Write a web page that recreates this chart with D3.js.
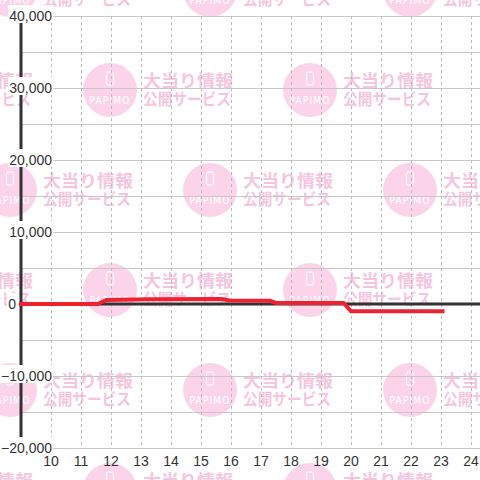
<!DOCTYPE html>
<html><head><meta charset="utf-8">
<script src="https://cdn.jsdelivr.net/npm/d3@7"></script>
<style>body{margin:0;background:#fff}svg{display:block}</style>
</head><body><svg id="c" width="480" height="480"></svg>
<script>
// data
const hours = [9, 11.55, 11.85, 13.3, 15.7, 15.95, 17.3, 17.5, 19.75, 20.0, 23.05];
const diffs = [0, 0, 550, 650, 700, 500, 450, 150, 150, -1000, -1000];
const baseHours = [9, 24.3];
const baseVals = [0, 0];
const xTicks = [10, 11, 12, 13, 14, 15, 16, 17, 18, 19, 20, 21, 22, 23, 24];
const yLabelTicks = [-20000, -10000, 0, 10000, 20000, 30000, 40000];
const yGridTicks = [-20000, -15000, -10000, -5000, 0, 5000, 10000, 15000, 20000, 25000, 30000, 35000, 40000];
const wmLine1 = "大当り情報";
const wmLine2 = "公開サービス";
const wmLogo = "PAPIMO";

const svg = d3.select("#c");
const x = d3.scaleLinear().domain([9, 24.3]).range([21, 480]);
const y = d3.scaleLinear().domain([-20000, 40000]).range([448, 16]);

// watermark
const wm = svg.append("g");
const centers = [];
for (let j = -1; j <= 2; j++) {
  for (let k = -1; k <= 2; k++) {
    centers.push([110 + 200 * k, 90 + 200 * j]);
    centers.push([210 + 200 * k, 190 + 200 * j]);
  }
}
centers.forEach(([cx, cy]) => {
  const g = wm.append("g").attr("transform", `translate(${cx},${cy})`);
  g.append("circle").attr("r", 27).attr("fill", "#fbd4ea");
  g.append("rect").attr("x", -3.5).attr("y", -18).attr("width", 7).attr("height", 13)
    .attr("rx", 1.5).attr("fill", "none").attr("stroke", "#fff").attr("stroke-width", 1);
  g.append("text").attr("x", 0).attr("y", 14).attr("text-anchor", "middle")
    .attr("font-family", "DejaVu Sans Condensed, Liberation Sans, sans-serif").attr("font-size", 10)
    .attr("letter-spacing", 1.2).attr("fill", "#fff").text(wmLogo);
  g.append("text").attr("x", 33).attr("y", -3).attr("font-family", "Noto Sans CJK JP")
    .attr("font-weight", "bold").attr("font-size", 17).attr("fill", "#f6c6e0")
    .attr("textLength", 90).attr("lengthAdjust", "spacingAndGlyphs").text(wmLine1);
  g.append("text").attr("x", 33).attr("y", 15).attr("font-family", "Noto Sans CJK JP")
    .attr("font-weight", "bold").attr("font-size", 16).attr("fill", "#f6c6e0")
    .attr("textLength", 88).attr("lengthAdjust", "spacingAndGlyphs").text(wmLine2);
});

// grid
svg.append("g").selectAll("line").data(yGridTicks).join("line")
  .attr("x1", 21).attr("x2", 480).attr("y1", d => y(d) + 0.5).attr("y2", d => y(d) + 0.5)
  .attr("stroke", "#c8c8c8").attr("stroke-width", 1);
svg.append("g").selectAll("line").data(xTicks).join("line")
  .attr("x1", d => x(d) + 0.5).attr("x2", d => x(d) + 0.5).attr("y1", y(40000)).attr("y2", y(-20000))
  .attr("stroke", "#bbbbbb").attr("stroke-width", 1).attr("stroke-dasharray", "3,3");

// y axis line
svg.append("line").attr("x1", x(9)).attr("x2", x(9)).attr("y1", y(40000)).attr("y2", y(-20000))
  .attr("stroke", "#333").attr("stroke-width", 3);

const line = d3.line().x(d => x(d[0])).y(d => y(d[1]));
svg.append("path").datum(baseHours.map((h, i) => [h, baseVals[i]])).attr("d", line)
  .attr("fill", "none").attr("stroke", "#333").attr("stroke-width", 3);
svg.append("path").datum(hours.map((h, i) => [h, diffs[i]])).attr("d", line)
  .attr("fill", "none").attr("stroke", "#ee2233").attr("stroke-width", 4)
  .attr("stroke-linecap", "square");

// y labels with white boxes
const yl = svg.append("g").attr("font-family", "Liberation Sans, Arial, sans-serif")
  .attr("font-size", 14).attr("fill", "#333");
yLabelTicks.forEach(v => {
  const ax = v === 0 ? 16 : 52;
  const t = yl.append("text").attr("x", ax).attr("y", y(v) + 5).attr("text-anchor", "end")
    .text(d3.format(",")(v));
  const bb = t.node().getBBox();
  yl.insert("rect", "text").attr("x", bb.x - 1).attr("y", y(v) - 11)
    .attr("width", bb.width + 2).attr("height", 18).attr("fill", "#fff");
});

// x labels
svg.append("g").selectAll("text").data(xTicks).join("text")
  .attr("x", d => x(d)).attr("y", 466).attr("text-anchor", "middle")
  .attr("font-family", "Liberation Sans, Arial, sans-serif").attr("font-size", 14)
  .attr("fill", "#333").text(d => d);
</script></body></html>
